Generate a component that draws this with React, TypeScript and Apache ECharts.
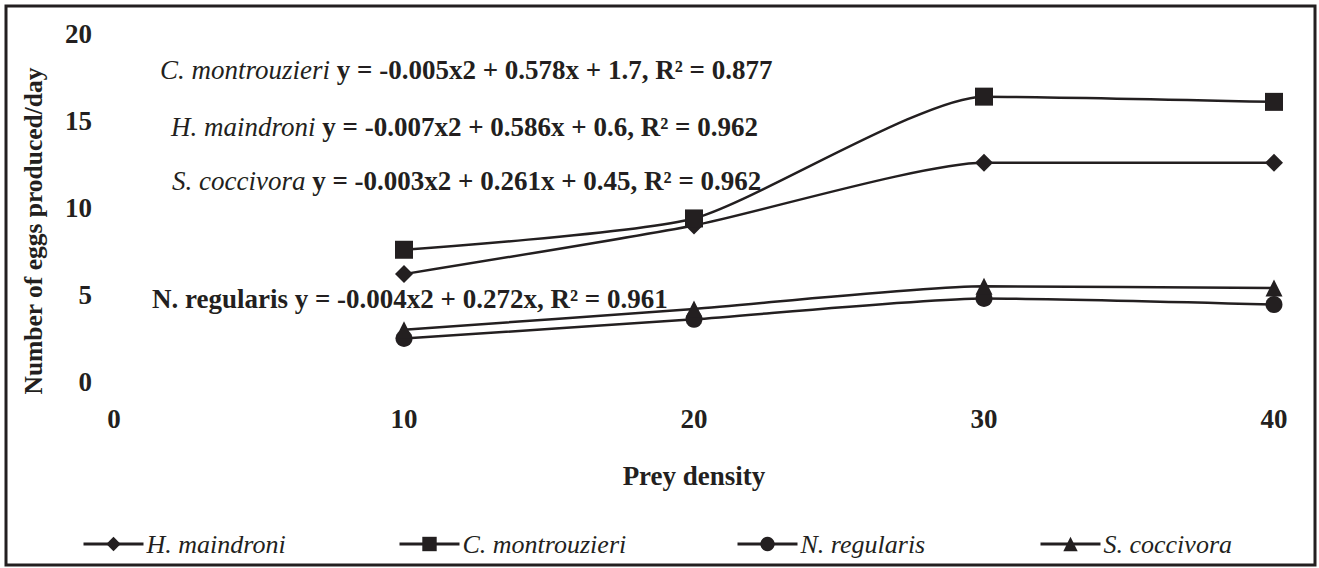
import React, { useEffect, useRef } from "react";
import * as echarts from "echarts";

const preyDensity = [10, 20, 30, 40];
const hMaindroni = [6.2, 9.0, 12.6, 12.6];
const cMontrouzieri = [7.6, 9.4, 16.4, 16.1];
const nRegularis = [2.5, 3.6, 4.8, 4.45];
const sCoccivora = [3.0, 4.2, 5.5, 5.4];

const xTicks = { min: 0, max: 40, interval: 10 };
const yTicks = { min: 0, max: 20, interval: 5 };

const equations = [
  { species: "C. montrouzieri", eq: "y = -0.005x2 + 0.578x + 1.7, R² = 0.877", italic: true },
  { species: "H. maindroni", eq: "y = -0.007x2 + 0.586x + 0.6, R² = 0.962", italic: true },
  { species: "S. coccivora", eq: "y = -0.003x2 + 0.261x + 0.45, R² = 0.962", italic: true },
  { species: "N. regularis", eq: "y = -0.004x2 + 0.272x, R² = 0.961", italic: false },
];
const eqPos = [
  [160, 70],
  [171, 127],
  [172, 181],
  [152, 299],
];

const INK = "#231f20";
const FONT = "'Liberation Serif', 'Times New Roman', serif";

export default function App() {
  const ref = useRef<HTMLDivElement>(null);
  useEffect(() => {
    document.body.style.margin = "0";
    const chart = echarts.init(ref.current!, null, { renderer: "svg" });
    const mk = (name: string, vals: number[], symbol: string, size: any) => ({
      name,
      type: "line",
      smooth: 0.2,
      data: preyDensity.map((x, i) => [x, vals[i]]),
      symbol,
      symbolSize: size,
      showAllSymbol: true,
      lineStyle: { color: INK, width: 2.5 },
      itemStyle: { color: INK, borderWidth: 0 },
    });
    const legendLefts = [77, 393, 731, 1034];
    const legendNames = ["H. maindroni", "C. montrouzieri", "N. regularis", "S. coccivora"];
    chart.setOption({
      animation: false,
      textStyle: { fontFamily: FONT, color: INK },
      grid: { left: 114, right: 45, top: 34, bottom: 186, containLabel: false },
      xAxis: {
        type: "value",
        ...xTicks,
        axisLine: { show: false },
        axisTick: { show: false },
        splitLine: { show: false },
        axisLabel: { margin: 23, fontSize: 27, fontWeight: "bold", color: INK, fontFamily: FONT },
        name: "Prey density",
        nameLocation: "middle",
        nameGap: 80,
        nameTextStyle: { fontSize: 27, fontWeight: "bold", color: INK, fontFamily: FONT },
      },
      yAxis: {
        type: "value",
        ...yTicks,
        axisLine: { show: false },
        axisTick: { show: false },
        splitLine: { show: false },
        axisLabel: { margin: 22, fontSize: 27, fontWeight: "bold", color: INK, fontFamily: FONT },
        name: "Number of eggs produced/day",
        nameLocation: "middle",
        nameGap: 68,
        nameTextStyle: {
          fontSize: 25.5,
          fontWeight: "bold",
          color: INK,
          fontFamily: FONT,
          padding: [0, 46, 0, 0],
        },
      },
      legend: legendNames.map((n, i) => ({
        data: [n],
        left: legendLefts[i],
        top: 526,
        itemWidth: 60,
        itemHeight: 18,
        itemGap: 0,
        lineStyle: { width: 3 },
        textStyle: { fontSize: 26, fontStyle: "italic", color: INK, fontFamily: FONT, padding: [0, 0, 0, -2] },
      })),
      series: [
        mk("H. maindroni", hMaindroni, "diamond", [18, 18]),
        mk("C. montrouzieri", cMontrouzieri, "rect", 18),
        mk("N. regularis", nRegularis, "circle", 17),
        mk("S. coccivora", sCoccivora, "triangle", 17),
      ],
      graphic: [
        {
          type: "rect",
          shape: { x: 6, y: 6, width: 1309, height: 559 },
          style: { fill: "none", stroke: INK, lineWidth: 3 },
          silent: true,
        },
        ...equations.map((e, i) => ({
          type: "text",
          x: eqPos[i][0],
          y: eqPos[i][1],
          style: {
            text: `{${e.italic ? "i" : "b"}|${e.species}} {b|${e.eq}}`,
            verticalAlign: "middle",
            rich: {
              i: { fontSize: 27, fontStyle: "italic", fontWeight: "normal", fontFamily: FONT, fill: INK },
              b: { fontSize: 27, fontWeight: "bold", fontFamily: FONT, fill: INK },
            },
            fontSize: 27,
            fontFamily: FONT,
            fill: INK,
          },
        })),
      ],
    });
    return () => chart.dispose();
  }, []);
  return <div ref={ref} style={{ width: 1319, height: 568 }} />;
}
